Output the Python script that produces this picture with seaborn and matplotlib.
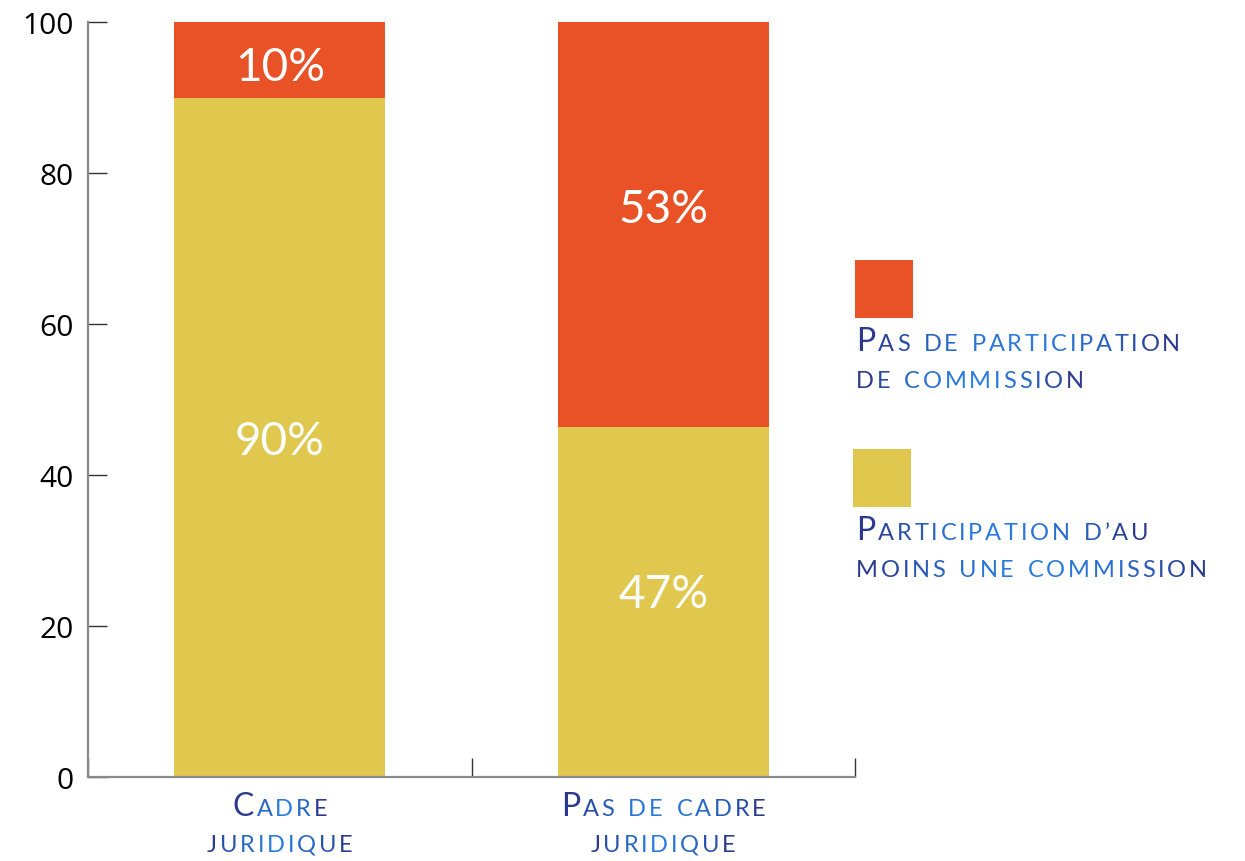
import numpy as np
import pandas as pd
import matplotlib
matplotlib.use("Agg")
import matplotlib.pyplot as plt
import seaborn as sns
from matplotlib.offsetbox import TextArea, HPacker, DrawingArea, AnnotationBbox
from matplotlib.colors import to_rgb

# ---- data ----
categories = ["Cadre juridique", "Pas de cadre juridique"]
cat_lines = [["Cadre", "juridique"], ["Pas de cadre", "juridique"]]
participation = [90, 46.3]          # yellow: au moins une commission
no_participation = [10, 53.7]       # orange: pas de participation
participation_labels = ["90%", "47%"]
no_participation_labels = ["10%", "53%"]
legend_lines = [["Pas de participation", "de commission"],
                ["Participation d\u2019au", "moins une commission"]]
yticks = [0, 20, 40, 60, 80, 100]

ORANGE = "#E85226"
YELLOW = "#E0C74D"
NAVY = to_rgb("#2B3A8F")
BRIGHT = to_rgb("#2A7BDD")

sns.set_theme(style="white")
plt.rcParams["font.family"] = ["Open Sans", "DejaVu Sans"]

fig = plt.figure(figsize=(12.45, 8.62), dpi=100)
W, H = 1245, 862
ax = fig.add_axes([88 / W, 1 - 778 / H, (855 - 88) / W, (778 - 23) / H])

df = pd.DataFrame({
    "cat": categories,
    "total": np.array(participation) + np.array(no_participation),
    "part": participation,
})

sns.barplot(data=df, x="cat", y="total", color=ORANGE, saturation=1,
            width=0.55, ax=ax, linewidth=0)
sns.barplot(data=df, x="cat", y="part", color=YELLOW, saturation=1,
            width=0.55, ax=ax, linewidth=0)

ax.set_xlim(-0.5, 1.5)
ax.set_ylim(0, 100)
ax.set_xlabel("")
ax.set_ylabel("")
ax.set_yticks(yticks)
ax.set_yticklabels([str(t) for t in yticks], fontsize=21.5, color="black")
ax.set_xticks([-0.5, 0.5, 1.5])
ax.set_xticklabels(["", "", ""])
ax.tick_params(axis="both", direction="in", length=13.5, width=1.0,
               color="#333333", left=True, bottom=True)
ax.tick_params(axis="y", pad=10)
for s in ["top", "right"]:
    ax.spines[s].set_visible(False)
for s in ["left", "bottom"]:
    ax.spines[s].set_color("#8a8a8a")
    ax.spines[s].set_linewidth(1.6)

# percentage labels (small visual shifts from the segment midpoints)
part_shift = [-0.5, 1.05]
top_shift = [-1.0, 2.05]
pct_font = dict(family=["Lato", "DejaVu Sans"], fontweight="normal",
                fontsize=33, color="white", ha="center", va="center")
for i in range(len(categories)):
    ax.text(i, participation[i] / 2 + part_shift[i], participation_labels[i],
            **pct_font)
    ax.text(i, participation[i] + no_participation[i] / 2 + top_shift[i],
            no_participation_labels[i], **pct_font)


def grad_color(t):
    # dark -> bright -> dark
    w = np.sin(np.pi * t) ** 1.0
    return tuple(NAVY[k] * (1 - w) + BRIGHT[k] * w for k in range(3))


def small_caps(line, big=23, small=17, sep=2.0):
    kids = []
    n = max(len(line) - 1, 1)
    for j, ch in enumerate(line):
        if ch == " ":
            kids.append(DrawingArea(small * 0.35, 0.1))
            continue
        size = big if ch.isupper() else small
        kids.append(TextArea(ch.upper(), textprops=dict(
            fontsize=size, color=grad_color(j / n),
            family=["Lato", "DejaVu Sans"])))
    return HPacker(children=kids, align="baseline", pad=0, sep=sep)


def place(line, x, y, align):
    pk = small_caps(line)
    ab = AnnotationBbox(pk, (x, y), xycoords="figure pixels",
                        box_alignment=(align, 0.0), frameon=False, pad=0)
    fig.add_artist(ab)


# category labels
for i, lines in enumerate(cat_lines):
    xc = 88 + (i + 0.5) * (855 - 88) / 2
    place(lines[0], xc, H - 822, 0.5)
    place(lines[1], xc, H - 856, 0.5)

# legend
squares = [(855, 261, ORANGE), (853, 450, YELLOW)]
for (sx, sy, col), lines in zip(squares, legend_lines):
    fig.patches.append(plt.Rectangle((sx / W, 1 - (sy + 58) / H), 58 / W, 58 / H,
                                     transform=fig.transFigure, color=col,
                                     linewidth=0))
    place(lines[0], 856, H - (sy + 96), 0.0)
    place(lines[1], 856, H - (sy + 131), 0.0)

fig.savefig("out.png", dpi=100)
